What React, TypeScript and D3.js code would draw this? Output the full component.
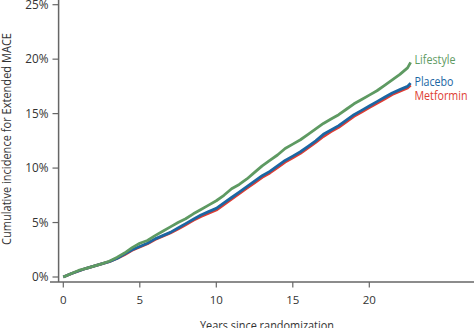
import React from "react";
import * as d3 from "d3";

const years = [0, 0.5, 1, 1.5, 2, 2.5, 3, 3.5, 4, 4.5, 5, 5.5, 6, 6.5, 7, 7.5, 8, 8.5, 9, 9.5, 10, 10.5, 11, 11.5, 12, 12.5, 13, 13.5, 14, 14.5, 15, 15.5, 16, 16.5, 17, 17.5, 18, 18.5, 19, 19.5, 20, 20.5, 21, 21.5, 22, 22.5, 22.7];
const lifestyle = [0, 0.3, 0.6, 0.8, 1.0, 1.2, 1.45, 1.8, 2.2, 2.7, 3.1, 3.35, 3.8, 4.2, 4.6, 5.0, 5.35, 5.8, 6.2, 6.6, 7.0, 7.5, 8.1, 8.5, 9.0, 9.6, 10.2, 10.7, 11.2, 11.8, 12.2, 12.6, 13.1, 13.6, 14.1, 14.5, 14.9, 15.4, 15.9, 16.3, 16.7, 17.1, 17.6, 18.1, 18.6, 19.2, 19.7];
const placebo = [0, 0.3, 0.55, 0.8, 1.0, 1.2, 1.4, 1.7, 2.1, 2.5, 2.8, 3.1, 3.5, 3.8, 4.1, 4.5, 4.9, 5.3, 5.7, 6.0, 6.3, 6.8, 7.3, 7.8, 8.3, 8.8, 9.3, 9.7, 10.2, 10.7, 11.1, 11.5, 12.0, 12.5, 13.1, 13.5, 13.9, 14.4, 14.9, 15.3, 15.7, 16.1, 16.5, 16.9, 17.2, 17.5, 17.8];
const metformin = [0, 0.3, 0.55, 0.8, 1.0, 1.2, 1.4, 1.7, 2.05, 2.45, 2.75, 3.05, 3.45, 3.75, 4.05, 4.4, 4.8, 5.2, 5.55, 5.85, 6.15, 6.65, 7.15, 7.65, 8.15, 8.65, 9.15, 9.55, 10.05, 10.55, 10.95, 11.35, 11.85, 12.35, 12.9, 13.35, 13.75, 14.25, 14.75, 15.15, 15.55, 15.95, 16.35, 16.75, 17.05, 17.35, 17.6];

const xTicks = [0, 5, 10, 15, 20];
const yTicks = [0, 5, 10, 15, 20, 25];

const seriesNames = ["Metformin", "Placebo", "Lifestyle"];
const seriesValues = [metformin, placebo, lifestyle];
const seriesColors = ["#de3d33", "#1b66a3", "#5e9a62"];

const FONT = "'Open Sans', 'Noto Sans', sans-serif";

export default function App() {
  const x = d3.scaleLinear().domain([0, 20]).range([63.3, 369.3]);
  const y = d3.scaleLinear().domain([0, 25]).range([277, 4.7]);
  const line = d3
    .line<[number, number]>()
    .x((d) => x(d[0]))
    .y((d) => y(d[1]))
    .curve(d3.curveLinear);

  const labelBaselines = [100, 85.7, 64];
  const labelLengths = [53, 39, 41];

  return (
    <svg
      width={474}
      height={328}
      style={{ position: "absolute", left: 0, top: 0, background: "#fff" }}
      fontFamily={FONT}
    >
      {/* y axis */}
      <line x1={58.6} x2={58.6} y1={0} y2={282} stroke="#666" strokeWidth={1.5} />
      {yTicks.map((t) => (
        <g key={t} transform={`translate(0,${y(t)})`}>
          <line x1={52.5} x2={58.6} stroke="#666" strokeWidth={1.2} />
          <text x={48.5} y={4.3} textAnchor="end" fontSize={11.8} fill="#333">
            {t}%
          </text>
        </g>
      ))}
      {/* x axis */}
      <line x1={50} x2={474} y1={282} y2={282} stroke="#666" strokeWidth={1.5} />
      {xTicks.map((t) => (
        <g key={t} transform={`translate(${x(t)},0)`}>
          <line y1={282} y2={287.5} stroke="#666" strokeWidth={1.2} />
          <text y={304} textAnchor="middle" fontSize={11.5} fill="#333">
            {t}
          </text>
        </g>
      ))}
      <text
        x={200}
        y={330}
        fontSize={12.5}
        fill="#333"
        textLength={134}
        lengthAdjust="spacingAndGlyphs"
      >
        Years since randomization
      </text>
      <text
        transform="translate(11,245) rotate(-90)"
        fontSize={12.5}
        fill="#333"
        textLength={212}
        lengthAdjust="spacingAndGlyphs"
      >
        Cumulative incidence for Extended MACE
      </text>
      {seriesValues.map((vals, i) => (
        <path
          key={seriesNames[i]}
          d={line(years.map((yr, j) => [yr, vals[j]] as [number, number])) || ""}
          fill="none"
          stroke={seriesColors[i]}
          strokeWidth={2.8}
          strokeLinejoin="round"
        />
      ))}
      {seriesNames.map((n, i) => (
        <text
          key={n}
          x={414.5}
          y={labelBaselines[i]}
          fontSize={12.5}
          fill={seriesColors[i]}
          textLength={labelLengths[i]}
          lengthAdjust="spacingAndGlyphs"
        >
          {n}
        </text>
      ))}
    </svg>
  );
}
